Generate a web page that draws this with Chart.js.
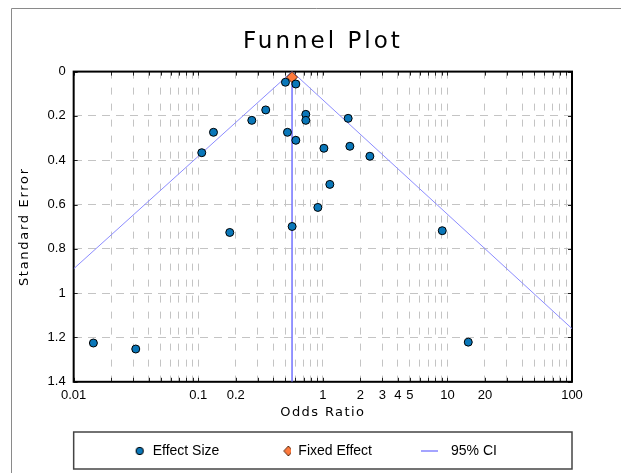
<!DOCTYPE html>
<html>
<head>
<meta charset="utf-8">
<title>Funnel Plot</title>
<script src="https://cdn.jsdelivr.net/npm/chart.js@4.4.1/dist/chart.umd.min.js"></script>
<style>
  html, body { margin: 0; padding: 0; background: #fff; }
</style>
</head>
<body>
<canvas id="funnel" width="621" height="473"></canvas>
<script>
// study estimates
const oddsRatios = [0.501, 0.607, 0.348, 0.269, 0.730, 0.730, 0.1325, 0.520, 0.607, 0.1067, 1.02,
                    1.138, 0.912, 0.567, 0.179, 1.597, 1.648, 2.385, 9.09, 0.0144, 0.0315, 14.7];
const standardErrors = [0.048, 0.056, 0.173, 0.22, 0.193, 0.22, 0.274, 0.274, 0.31, 0.366, 0.346,
                        0.509, 0.613, 0.699, 0.726, 0.211, 0.337, 0.382, 0.718, 1.225, 1.252, 1.221];

const fixedOR = [0.566];
const fixedSE = [0.025];

// 95% CI funnel: left edge -> apex -> right edge
const ciOR = [0.01, 0.566, 100];
const ciSE = [0.89, 0, 1.16];

// vertical line through the pooled estimate
const pooledOR = [0.566, 0.566];
const pooledSE = [0, 1.4];

const xTickLabels = [0.01, 0.1, 0.2, 1, 2, 3, 4, 5, 10, 20, 100];

const toPoints = (xs, ys) => xs.map((v, i) => ({ x: v, y: ys[i] }));

// log grid: 1..9 in every decade
const xGridValues = [];
for (let e = -2; e <= 1; e++) {
  for (let m = 1; m <= 9; m++) xGridValues.push(Number((m * Math.pow(10, e)).toPrecision(3)));
}
xGridValues.push(100);

const BLUE = '#0a77b9';
const ORANGE = '#ff7a3d';
const CI_COLOR = '#8c8cff';

// little legend markers, each drawn into the 48px box slot
function marker(draw) {
  const c = document.createElement('canvas');
  c.width = 48; c.height = 14;
  draw(c.getContext('2d'));
  return c;
}
const dotIcon = marker(g => {
  g.beginPath(); g.arc(42, 7, 3.7, 0, Math.PI * 2);
  g.fillStyle = BLUE; g.fill(); g.strokeStyle = '#000'; g.lineWidth = 1; g.stroke();
});
const diamondIcon = marker(g => {
  g.beginPath(); g.moveTo(45, 2); g.lineTo(49.5, 7); g.lineTo(45, 12); g.lineTo(40.5, 7); g.closePath();
  g.fillStyle = ORANGE; g.fill(); g.strokeStyle = '#5a2a10'; g.lineWidth = 1; g.stroke();
});
const lineIcon = marker(g => {
  g.beginPath(); g.moveTo(25, 7); g.lineTo(42, 7);
  g.strokeStyle = '#a4a4ff'; g.lineWidth = 2; g.stroke();
});

// the original renders its titles wide, so space the letters out a bit
function withSpacing(target, method, spacing) {
  if (!target || target['_spaced_' + method]) return;
  const original = target[method];
  target[method] = function () {
    this.ctx.letterSpacing = spacing;
    original.apply(this, arguments);
    this.ctx.letterSpacing = '0px';
  };
  target['_spaced_' + method] = true;
}

const decorations = {
  id: 'decorations',
  beforeDraw(chart) {
    withSpacing(chart.titleBlock, 'draw', '3px');
    withSpacing(chart.scales.x, 'drawTitle', '1.4px');
    withSpacing(chart.scales.y, 'drawTitle', '1.7px');

    const ctx = chart.ctx;
    ctx.save();
    ctx.strokeStyle = '#8a8a8a';
    ctx.lineWidth = 1;
    ctx.beginPath();
    ctx.moveTo(11.5, chart.height);
    ctx.lineTo(11.5, 8.5);
    ctx.lineTo(chart.width, 8.5);
    ctx.stroke();
    ctx.restore();
  },
  beforeDatasetsDraw(chart) {
    const { ctx, chartArea: a, scales: { x, y } } = chart;
    ctx.save();
    ctx.strokeStyle = '#222';
    ctx.lineWidth = 1;
    ctx.beginPath();
    xGridValues.forEach(v => {
      const px = Math.round(x.getPixelForValue(v)) + 0.5;
      ctx.moveTo(px, a.bottom); ctx.lineTo(px, a.bottom - 4);
      ctx.moveTo(px, a.top); ctx.lineTo(px, a.top + 4);
    });
    y.ticks.forEach(t => {
      const py = Math.round(y.getPixelForValue(t.value)) + 0.5;
      ctx.moveTo(a.left, py); ctx.lineTo(a.left + 4, py);
      ctx.moveTo(a.right, py); ctx.lineTo(a.right - 4, py);
    });
    ctx.stroke();
    ctx.strokeStyle = '#000';
    ctx.lineWidth = 2;
    ctx.strokeRect(a.left, a.top, a.right - a.left, a.bottom - a.top);
    ctx.restore();
  },
  afterDraw(chart) {
    const { ctx, chartArea: a, legend } = chart;
    const cy = legend.top + legend.options.labels.padding + 7;
    ctx.save();
    ctx.strokeStyle = '#444';
    ctx.lineWidth = 1.5;
    ctx.strokeRect(a.left, Math.round(cy - 19), a.right - a.left, 37);
    ctx.restore();
  }
};

Chart.defaults.font.family = '"Liberation Sans", Arial, sans-serif';
Chart.defaults.font.size = 13;
Chart.defaults.color = '#000';

new Chart(document.getElementById('funnel'), {
  type: 'scatter',
  data: {
    datasets: [
      {
        label: 'Effect Size',
        data: toPoints(oddsRatios, standardErrors),
        pointStyle: 'circle',
        pointRadius: 4,
        backgroundColor: BLUE,
        borderColor: '#000',
        borderWidth: 1
      },
      {
        label: 'Fixed Effect',
        data: toPoints(fixedOR, fixedSE),
        pointStyle: 'rectRot',
        pointRadius: 5.5,
        backgroundColor: ORANGE,
        borderColor: '#5a2a10',
        borderWidth: 1
      },
      {
        label: '95% CI',
        data: toPoints(ciOR, ciSE),
        showLine: true,
        pointRadius: 0,
        borderColor: CI_COLOR,
        borderWidth: 1,
        fill: false
      },
      {
        label: 'pooled',
        data: toPoints(pooledOR, pooledSE),
        showLine: true,
        pointRadius: 0,
        borderColor: '#7272ff',
        borderWidth: 1.5,
        fill: false
      }
    ]
  },
  options: {
    responsive: false,
    animation: false,
    events: [],
    devicePixelRatio: 1,
    layout: { padding: { left: 12, right: 49, top: 0, bottom: 5 } },
    scales: {
      x: {
        type: 'logarithmic',
        min: 0.01,
        max: 100,
        afterBuildTicks: axis => { axis.ticks = xGridValues.map(v => ({ value: v })); },
        ticks: {
          autoSkip: false,
          maxRotation: 0,
          minRotation: 0,
          padding: 6,
          font: { size: 13 },
          callback: v => (xTickLabels.includes(v) ? String(v) : '')
        },
        grid: { color: '#c4c4c4', lineWidth: 1, drawTicks: false, tickLength: 0 },
        border: { display: false, dash: [7, 9] },
        title: {
          display: true,
          text: 'Odds Ratio',
          font: { family: '"DejaVu Sans"', size: 13 },
          padding: { top: -5, bottom: 0 }
        }
      },
      y: {
        type: 'linear',
        reverse: true,
        min: 0,
        max: 1.4,
        ticks: {
          stepSize: 0.2,
          padding: 8,
          font: { size: 13 },
          callback: v => String(Number(v.toFixed(1)))
        },
        grid: { color: '#c4c4c4', lineWidth: 1, drawTicks: false, tickLength: 0 },
        border: { display: false, dash: [8, 6] },
        title: {
          display: true,
          text: 'Standard Error',
          font: { family: '"DejaVu Sans"', size: 13 },
          padding: { top: 5, bottom: 7 }
        }
      }
    },
    plugins: {
      title: {
        display: true,
        text: 'Funnel Plot',
        fullSize: false,
        font: { family: '"DejaVu Sans"', size: 23, weight: 'normal' },
        padding: { top: 28, bottom: 16 }
      },
      legend: {
        position: 'bottom',
        align: 'start',
        fullSize: false,
        labels: {
          usePointStyle: true,
          pointStyleWidth: 48,
          padding: 24,
          font: { size: 14 },
          generateLabels: () => [
            { text: 'Effect Size', pointStyle: dotIcon, fillStyle: BLUE, strokeStyle: '#000', lineWidth: 0, hidden: false, datasetIndex: 0 },
            { text: 'Fixed Effect', pointStyle: diamondIcon, fillStyle: ORANGE, strokeStyle: '#000', lineWidth: 0, hidden: false, datasetIndex: 1 },
            { text: '95% CI', pointStyle: lineIcon, fillStyle: CI_COLOR, strokeStyle: CI_COLOR, lineWidth: 0, hidden: false, datasetIndex: 2 }
          ]
        }
      },
      tooltip: { enabled: false }
    }
  },
  plugins: [decorations]
});
</script>
</body>
</html>
